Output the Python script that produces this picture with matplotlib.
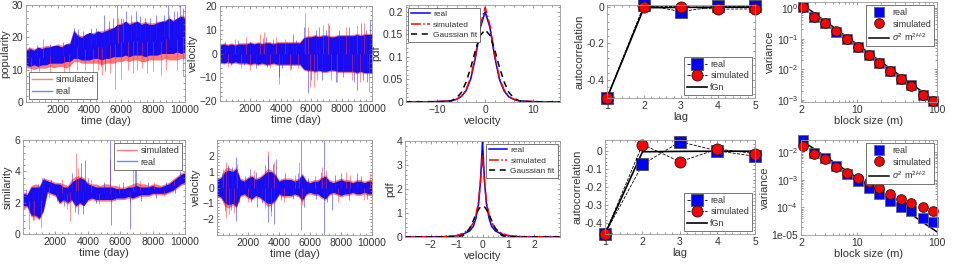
import numpy as np
import matplotlib
matplotlib.use('Agg')
import matplotlib.pyplot as plt
from matplotlib.lines import Line2D
from matplotlib.ticker import AutoMinorLocator

plt.rcParams['font.family'] = ['Liberation Sans', 'DejaVu Sans']
plt.rcParams['mathtext.fontset'] = 'custom'
plt.rcParams['mathtext.rm'] = 'Liberation Sans'
plt.rcParams['mathtext.it'] = 'Liberation Sans:italic'
plt.rcParams['text.color'] = '0.2'
plt.rcParams['axes.labelcolor'] = '0.2'

# ---- time-series envelopes, read every 250 days ----
days = np.arange(0, 10001, 250)

pop_real_hi = [16, 16.5, 16, 17, 16.5, 17, 17, 17.5, 17.5, 17, 18, 18, 22, 20.5, 20, 21, 21.5, 21, 22, 21.5, 22,
               22.5, 23, 24, 24, 25, 24, 24.5, 25, 24, 24.5, 24, 24, 24.5, 25, 25, 26, 25, 26, 26.5, 26]
pop_real_lo = [11.5, 11, 11.5, 11, 11.5, 11.5, 12, 12, 12, 12, 12.5, 12.5, 13.5, 13.5, 13, 13, 13, 13.5, 13.5, 13, 13.5,
               13.5, 14, 14, 14, 14.5, 14, 14.5, 14.5, 14.5, 14, 14.5, 14.5, 14.5, 15, 15, 15, 15, 15.5, 15, 15.5]
pop_sim_hi = [16.5, 17, 16.5, 17, 17, 17.5, 17.5, 17.5, 18, 17.5, 18, 18.5, 22.5, 21, 20.5, 21, 21.5, 21.5, 22, 22,
              22.5, 23, 23, 24, 24.5, 25, 24.5, 25, 25, 24.5, 25, 24.5, 24.5, 25, 25, 25.5, 26, 25.5, 26, 27, 26.5]
pop_sim_lo = [10.5, 10.5, 10, 10.5, 10.5, 10.5, 11, 10.5, 11, 11, 10.5, 11, 12.5, 12.5, 12, 12, 12, 12, 12, 11.5,
              12, 12, 12, 12.5, 12.5, 13, 12.5, 13, 13, 12.5, 12.5, 13, 13, 13, 13, 13.5, 13, 13, 13, 13.5, 13.5]
pop_real_spikes = [(200, 17), (700, 17.5), (1500, 18), (2300, 18.5), (3000, 23), (3300, 22.5), (3600, 22),
                   (4100, 23), (4400, 23), (4700, 11), (4900, 27), (5000, 9.5), (5200, 25), (5500, 26), (5700, 30),
                   (6000, 26), (6300, 28), (6600, 27), (6900, 28), (7200, 26.5), (7500, 26), (7800, 26),
                   (8200, 27), (8700, 27), (8900, 30), (9300, 28), (9500, 28), (9700, 30), (9900, 29)]
pop_sim_spikes = [(300, 8.5), (800, 9), (1100, 19.5), (1500, 9), (2400, 8), (2700, 9), (3200, 10), (3700, 10),
                  (4200, 9), (4500, 10), (4800, 8.5), (5300, 9), (5600, 4), (5800, 26), (6000, 7), (6100, 26),
                  (6400, 10), (6700, 9), (7000, 10), (7300, 10.5), (7600, 9), (8000, 9.5), (8500, 8.5),
                  (8800, 10), (9000, 27), (9500, 10), (9900, 8)]

vel_real_amp = [3.5, 4, 3.5, 4, 3.5, 4, 4, 4, 4.5, 4, 4.5, 4, 4.5, 4.5, 4, 4.5, 4.5, 4.5, 4.5, 4.5, 4.5,
                4.5, 6.5, 7, 7, 7.5, 7, 7.5, 7.5, 7, 7, 7.5, 7.5, 7.5, 7.5, 7.5, 8, 7.5, 8, 8, 8]
vel_sim_amp = [4, 4.5, 4, 4.5, 4, 4.5, 4.5, 4.5, 5, 4.5, 5, 4.5, 5, 5, 4.5, 5, 5, 5, 5, 5, 5,
               5, 7, 7.5, 7.5, 8, 7.5, 8, 8, 7.5, 7.5, 8, 8, 8, 8, 8, 8.5, 8, 8.5, 8.5, 8.5]
vel_real_spikes = [(300, 5), (700, -5), (1200, 5.5), (1600, -5), (2000, 5), (2400, -6), (2800, 6.5), (3000, 7),
                   (3100, -5.5), (3500, 6), (3900, -10), (4100, -6), (4400, 5), (4700, -6.5), (4800, 8),
                   (5000, 5.5), (5500, 11), (5800, -16.5), (6000, -11), (6300, 10), (6500, 11), (6700, -11),
                   (7000, 10), (7200, 12), (7600, -12), (7800, 10), (8100, -10), (8500, 11), (8800, -12),
                   (9000, -15.5), (9300, 13), (9400, -11), (9600, 10), (9700, -12), (9900, 14)]
vel_sim_spikes = [(500, -5.5), (1000, 6), (1400, -6), (1700, 7), (2000, -7), (2600, 8), (2900, 9), (3300, -6),
                  (3700, 7), (3900, -13), (4300, 6), (4600, -7), (5100, -6), (5600, 17), (5800, 11), (5900, -14),
                  (6200, -14), (6400, -11), (6800, 12), (7100, 13), (7300, -11), (7700, -12), (8300, 11),
                  (8700, -11), (9000, 12), (9200, -12), (9500, 13), (9800, -16)]

sim_real_hi = [2.6, 2.5, 3.0, 3.0, 3.0, 3.5, 3.4, 3.3, 3.2, 3.2, 3.0, 3.0, 3.3, 3.5, 3.6, 3.5, 3.2, 3.1, 3.0, 3.0, 3.0,
               3.0, 3.0, 2.9, 2.9, 2.9, 3.0, 3.0, 3.1, 3.0, 3.0, 3.0, 3.1, 3.0, 3.0, 3.1, 3.2, 3.4, 3.6, 3.8, 3.9]
sim_real_lo = [1.8, 1.8, 1.2, 1.2, 1.0, 1.5, 2.7, 2.6, 2.5, 2.0, 2.2, 2.0, 2.2, 1.8, 2.0, 1.8, 2.2, 2.3, 2.2, 2.2, 2.2,
               2.2, 2.2, 2.3, 2.3, 2.3, 2.4, 2.3, 2.4, 2.5, 2.5, 2.5, 2.6, 2.6, 2.6, 2.6, 2.7, 2.8, 3.0, 3.2, 3.3]
sim_sim_hi = [2.7, 2.6, 3.1, 3.2, 3.1, 3.6, 3.5, 3.4, 3.3, 3.3, 3.2, 3.1, 3.5, 3.7, 3.7, 3.6, 3.3, 3.2, 3.2, 3.1, 3.2,
              3.2, 3.1, 3.1, 3.0, 3.0, 3.1, 3.2, 3.3, 3.2, 3.2, 3.1, 3.2, 3.2, 3.1, 3.2, 3.3, 3.5, 3.7, 3.9, 4.0]
sim_sim_lo = [1.6, 1.7, 1.1, 1.1, 0.9, 1.4, 2.6, 2.5, 2.4, 1.9, 2.1, 1.9, 2.1, 1.7, 1.9, 1.8, 2.1, 2.2, 2.1, 2.1, 2.1,
              2.1, 2.1, 2.2, 2.2, 2.2, 2.3, 2.2, 2.3, 2.4, 2.4, 2.4, 2.5, 2.5, 2.5, 2.5, 2.6, 2.7, 2.9, 3.1, 3.2]
sim_real_spikes = [(200, 2.9), (600, 0.9), (900, 3.2), (1200, 3.6), (1300, 3.6), (1700, 3.5), (2100, 2.1),
                   (2500, 1.8), (3000, 3.9), (3200, 1.4), (3400, 1.3), (3600, 4.5), (3700, 1.3), (3800, 4.7),
                   (4000, 3.6), (4500, 2.0), (5000, 3.3), (5400, 6.1), (5450, 0.6), (5700, 2.2), (6200, 3.3),
                   (6600, 0.3), (6900, 4.8), (7000, 4.7), (7300, 2.1), (7700, 3.3), (8200, 2.3), (8800, 3.3),
                   (9400, 2.6), (9700, 4.0), (10000, 4.0)]
sim_sim_spikes = [(400, 0.3), (700, 0.9), (1100, 0.4), (1600, 2.3), (2400, 3.5), (2700, 1.6), (2900, 0.8),
                  (3300, 5.2), (3400, 4.2), (4200, 3.5), (4700, 1.9), (5400, 4.8), (5900, 3.2), (6600, 2.0),
                  (6800, 4.3), (7200, 3.4), (8100, 3.3), (8700, 2.4), (9300, 3.5)]

vel2_real_amp = [0.5, 0.6, 1.0, 1.1, 1.0, 1.2, 0.5, 0.4, 0.6, 0.7, 0.5, 0.6, 0.8, 1.0, 1.0, 0.8, 0.4, 0.5, 0.5, 0.5,
                 0.4, 0.5, 0.8, 0.4, 0.3, 0.4, 0.4, 0.6, 0.7, 0.4, 0.3, 0.4, 0.5, 0.4, 0.4, 0.3, 0.4, 0.4, 0.3, 0.4, 0.4]
vel2_sim_amp = [0.6, 0.7, 1.2, 1.3, 1.1, 1.3, 0.6, 0.5, 0.7, 0.8, 0.6, 0.7, 0.9, 1.2, 1.1, 0.9, 0.5, 0.6, 0.6, 0.6,
                0.5, 0.6, 0.9, 0.5, 0.4, 0.5, 0.5, 0.7, 0.8, 0.5, 0.4, 0.5, 0.6, 0.5, 0.5, 0.4, 0.5, 0.5, 0.4, 0.5, 0.5]
vel2_real_spikes = [(300, 0.9), (500, -1.5), (700, 1.4), (900, -1.4), (1000, 1.3), (1200, -2.1), (1200, 1.9),
                    (1400, -0.9), (1800, 0.7), (2100, 1.2), (2200, -0.9), (2500, 1.0), (2600, -1.2), (2900, -1.0),
                    (3100, 1.4), (3300, -2.2), (3300, 2.0), (3500, -1.5), (3600, 1.5), (3700, -2.3), (3800, 1.8),
                    (4100, -0.8), (4400, 0.9), (4900, -0.7), (5200, 0.9), (5400, 3.0), (5400, -2.7), (5600, -1.2),
                    (5900, 0.6), (6400, -0.7), (6700, 1.0), (6900, 3.0), (6900, -3.0), (7100, -0.9), (7400, -1.4),
                    (7600, 0.8), (8000, 0.9), (8500, -0.8), (9000, 0.9), (9300, 0.7), (9700, -0.7)]
vel2_sim_spikes = [(400, 1.2), (600, -1.9), (600, 1.6), (800, -1.7), (1100, -1.6), (1300, 1.5), (2000, -0.9),
                   (2400, 1.1), (3100, -1.3), (3300, 2.3), (3500, -1.8), (3700, 1.6), (4300, -0.9), (5000, 0.8),
                   (5300, 1.6), (5500, -1.1), (6300, 0.7), (6800, 1.3), (7000, 1.1), (7800, -0.9), (8300, 1.0),
                   (8600, 0.8), (9500, -0.8), (9900, 0.9)]

# ---- pdfs ----
pdf1_x = [-16.6, -12, -10, -8, -7, -6, -5, -4, -3, -2, -1, 0, 1, 2, 3, 4, 5, 6, 7, 8, 10, 12, 15.7]
pdf1_real = [0, 0.0005, 0.001, 0.002, 0.003, 0.006, 0.012, 0.025, 0.052, 0.1, 0.165, 0.2, 0.165, 0.1, 0.05, 0.024,
             0.011, 0.006, 0.003, 0.002, 0.001, 0.0005, 0]
pdf1_sim = [0, 0.0005, 0.001, 0.002, 0.003, 0.006, 0.013, 0.027, 0.055, 0.105, 0.17, 0.21, 0.17, 0.105, 0.053, 0.026,
            0.012, 0.006, 0.003, 0.002, 0.001, 0.0005, 0]
pdf1_gauss = [0, 0, 0, 0.001, 0.003, 0.009, 0.021, 0.044, 0.077, 0.116, 0.148, 0.16, 0.148, 0.116, 0.077, 0.044,
              0.021, 0.009, 0.003, 0.001, 0, 0, 0]

pdf2_x = [-3, -2, -1.5, -1, -0.75, -0.5, -0.35, -0.25, -0.15, -0.08, 0, 0.08, 0.15, 0.25, 0.35, 0.5, 0.75, 1, 1.5,
          2, 3]
pdf2_real = [0, 0.005, 0.01, 0.05, 0.12, 0.25, 0.45, 0.8, 1.4, 2.3, 4.0, 2.3, 1.4, 0.8, 0.45, 0.25, 0.12, 0.05, 0.01,
             0.005, 0]
pdf2_sim = [0, 0.006, 0.015, 0.06, 0.15, 0.35, 0.6, 0.95, 1.5, 2.3, 3.4, 2.3, 1.5, 0.95, 0.6, 0.35, 0.15, 0.06,
            0.015, 0.006, 0]
pdf2_gauss = [0, 0, 0, 0.01, 0.06, 0.35, 0.7, 0.95, 1.15, 1.25, 1.3, 1.25, 1.15, 0.95, 0.7, 0.35, 0.06, 0.01, 0, 0, 0]

# ---- autocorrelation ----
lags = [1, 2, 3, 4, 5]
ac1_real = [-0.5, 0.012, -0.025, 0.004, 0.004]
ac1_sim = [-0.5, 0.002, 0.002, -0.012, -0.01]
ac1_fgn = [-0.5, -0.004, -0.002, -0.001, -0.001]
ac2_real = [-0.46, -0.075, 0.05, 0.0, -0.03]
ac2_sim = [-0.46, 0.035, -0.06, 0.01, -0.015]
ac2_fgn = [-0.46, -0.005, -0.003, -0.002, -0.002]

# ---- aggregated variance ----
block = [2.1, 2.9, 4.0, 5.5, 7.5, 10.2, 14, 19, 26, 35, 48, 66, 89]
var1_real = [1.1, 0.52, 0.32, 0.17, 0.095, 0.055, 0.03, 0.0166, 0.0089, 0.0049, 0.003, 0.0015, 0.00095]
var1_sim = [1.1, 0.52, 0.32, 0.18, 0.095, 0.055, 0.03, 0.0166, 0.0089, 0.0049, 0.0029, 0.0015, 0.00095]
var1_fit_x = [2, 100]
var1_fit_y = [1.4, 0.00083]
var2_real = [0.027, 0.0095, 0.0063, 0.0031, 0.0016, 0.00088, 0.00049, 0.00030, 0.000165, 0.000105, 0.000072,
             0.000042, 0.000029]
var2_sim = [0.017, 0.0085, 0.0055, 0.0030, 0.0018, 0.00118, 0.00082, 0.00050, 0.00031, 0.00021, 0.000144,
            0.0001, 0.000074]
var2_fit_x = [2, 100]
var2_fit_y = [0.028, 0.000013]

W, H = 954, 271
fig = plt.figure(figsize=(W / 100, H / 100), dpi=100)
LBL = 8
TCK = 7.5
FIT_LABEL = r'$\sigma^2$ m$^{2H\text{-}2}$'


def box(x0, y0, x1, y1):
    return fig.add_axes([x0 / W, 1 - y1 / H, (x1 - x0) / W, (y1 - y0) / H])


def style(ax, minor=True):
    for s in ax.spines.values():
        s.set_color('0.6')
        s.set_linewidth(0.6)
    ax.tick_params(which='both', direction='in', top=True, right=True, labelsize=TCK,
                   colors='0.45', labelcolor='0.2', width=0.5, pad=2)
    ax.tick_params(which='major', length=2.5)
    ax.tick_params(which='minor', length=1.2)
    if minor:
        ax.xaxis.set_minor_locator(AutoMinorLocator(5))
        ax.yaxis.set_minor_locator(AutoMinorLocator(5))


def leg(ax, handles, labels, loc, fs=6.5):
    lg = ax.legend(handles, labels, loc=loc, fontsize=fs, fancybox=False, framealpha=1, edgecolor='0.25',
                   borderpad=0.35, labelspacing=0.3, handlelength=2.2, handletextpad=0.4, borderaxespad=0.3)
    lg.get_frame().set_linewidth(0.5)


def band_plot(ax, lo_s, hi_s, lo_r, hi_r, spikes_s, spikes_r):
    ax.fill_between(days, lo_s, hi_s, color='#ff2020', alpha=0.6, lw=0)
    mid_s = (np.array(lo_s) + np.array(hi_s)) / 2
    for d, v in spikes_s:
        ax.vlines(d, np.interp(d, days, mid_s), v, color='#ff3030', lw=0.6, alpha=0.6)
    ax.fill_between(days, lo_r, hi_r, color='#0000ff', alpha=0.9, lw=0)
    mid_r = (np.array(lo_r) + np.array(hi_r)) / 2
    for d, v in spikes_r:
        ax.vlines(d, np.interp(d, days, mid_r), v, color='#2020ff', lw=0.6, alpha=0.6)
    ax.set_xlim(0, 10000)
    ax.set_xticks([2000, 4000, 6000, 8000, 10000])
    ax.set_xlabel('time (day)', fontsize=LBL, labelpad=1)


red_leg = Line2D([], [], color='#ff0000', alpha=0.5, lw=1)
blue_leg = Line2D([], [], color='#0000ff', alpha=0.5, lw=1)

# row 1 ---------------------------------------------------------------
ax = box(26, 5, 185, 102)
band_plot(ax, pop_sim_lo, pop_sim_hi, pop_real_lo, pop_real_hi, pop_sim_spikes, pop_real_spikes)
ax.set_ylim(0, 30)
ax.set_yticks([0, 10, 20, 30])
ax.set_ylabel('popularity', fontsize=LBL, labelpad=1)
style(ax)
leg(ax, [red_leg, blue_leg], ['simulated', 'real'], 'lower left')

ax = box(220, 6, 372, 101)
v_r = np.array(vel_real_amp)
v_s = np.array(vel_sim_amp)
band_plot(ax, -v_s, v_s, -v_r, v_r, vel_sim_spikes, vel_real_spikes)
ax.set_ylim(-20, 20)
ax.set_yticks([-20, -10, 0, 10, 20])
ax.set_ylabel('velocity', fontsize=LBL, labelpad=1)
style(ax)

ax = box(406, 5, 560, 102)
l1, = ax.plot(pdf1_x, pdf1_real, color='#0000ff', lw=1.1)
l2, = ax.plot(pdf1_x, pdf1_sim, color='#ff0000', lw=1.1, ls='-.')
l3, = ax.plot(pdf1_x, pdf1_gauss, color='k', lw=1.1, ls=(0, (4, 3)))
ax.set_xlim(-16.6, 15.7)
ax.set_ylim(0, 0.215)
ax.set_xticks([-10, 0, 10])
ax.set_yticks([0, 0.05, 0.1, 0.15, 0.2])
ax.set_yticklabels(['0', '0.05', '0.1', '0.15', '0.2'])
ax.set_xlabel('velocity', fontsize=LBL, labelpad=1)
ax.set_ylabel('pdf', fontsize=LBL, labelpad=1)
style(ax)
leg(ax, [l1, l2, l3], ['real', 'simulated', 'Gaussian fit'], 'upper left', fs=6)

ax = box(607, 5, 755, 98)
l3, = ax.plot(lags, ac1_fgn, color='k', lw=1.2)
l1, = ax.plot(lags, ac1_real, color='k', lw=0.6, ls='--', marker='s', ms=8, mfc='#0000ff', mec='0.3', mew=0.6)
l2, = ax.plot(lags, ac1_sim, color='k', lw=0.6, ls='--', marker='o', ms=8, mfc='#ff0000', mec='0.1', mew=0.6)
ax.set_xlim(1, 5)
ax.set_ylim(-0.5, 0.011)
ax.set_xticks(lags)
ax.set_yticks([-0.4, -0.2, 0])
ax.set_yticklabels(['-0.4', '-0.2', '0'])
ax.set_xlabel('lag', fontsize=LBL, labelpad=1)
ax.set_ylabel('autocorrelation', fontsize=LBL, labelpad=1)
style(ax)
for ln in (l1, l2):
    ln.set_clip_on(False)
leg(ax, [l1, l2, l3], ['real', 'simulated', 'fGn'], 'lower right', fs=6.5)

ax = box(801, 2, 937, 102)
l3, = ax.loglog(var1_fit_x, var1_fit_y, color='k', lw=1.1)
l1, = ax.loglog(block, var1_real, ls='none', marker='s', ms=7.5, mfc='#0000ff', mec='0.4', mew=0.6, clip_on=False)
l2, = ax.loglog(block, var1_sim, ls='none', marker='o', ms=7, mfc='#ff0000', mec='0.1', mew=0.6, clip_on=False)
ax.set_xlim(2, 100)
ax.set_ylim(8.6e-4, 1.57)
ax.set_xticks([2, 10, 100])
ax.set_xticklabels(['2', '10', '100'])
ax.set_xlabel('block size (m)', fontsize=LBL, labelpad=1)
ax.set_ylabel('variance', fontsize=LBL, labelpad=1)
style(ax, minor=False)
leg(ax, [l1, l2, l3], ['real', 'simulated', FIT_LABEL], 'upper right', fs=6.5)

# row 2 ---------------------------------------------------------------
ax = box(23, 140, 185, 234)
band_plot(ax, sim_sim_lo, sim_sim_hi, sim_real_lo, sim_real_hi, sim_sim_spikes, sim_real_spikes)
ax.set_ylim(0, 6)
ax.set_yticks([0, 2, 4, 6])
ax.set_ylabel('similarity', fontsize=LBL, labelpad=1)
style(ax)
leg(ax, [red_leg, blue_leg], ['simulated', 'real'], 'upper right')

ax = box(217, 140, 372, 235)
v_r = np.array(vel2_real_amp)
v_s = np.array(vel2_sim_amp)
band_plot(ax, -v_s, v_s, -v_r, v_r, vel2_sim_spikes, vel2_real_spikes)
ax.set_ylim(-3, 3)
ax.set_yticks([-2, -1, 0, 1, 2])
ax.set_ylabel('velocity', fontsize=LBL, labelpad=1)
style(ax)

ax = box(405, 141, 560, 237)
l1, = ax.plot(pdf2_x, pdf2_real, color='#0000ff', lw=1.1)
l2, = ax.plot(pdf2_x, pdf2_sim, color='#ff0000', lw=1.1, ls='-.')
l3, = ax.plot(pdf2_x, pdf2_gauss, color='k', lw=1.1, ls=(0, (4, 3)))
ax.set_xlim(-3, 3)
ax.set_ylim(0, 4)
ax.set_xticks([-2, -1, 0, 1, 2])
ax.set_yticks([0, 1, 2, 3, 4])
ax.set_xlabel('velocity', fontsize=LBL, labelpad=1)
ax.set_ylabel('pdf', fontsize=LBL, labelpad=1)
style(ax)
leg(ax, [l1, l2, l3], ['real', 'simulated', 'Gaussian fit'], 'upper right', fs=6)

ax = box(605, 140, 755, 234)
l3, = ax.plot(lags, ac2_fgn, color='k', lw=1.2)
l1, = ax.plot(lags, ac2_real, color='k', lw=0.6, ls='--', marker='s', ms=8, mfc='#0000ff', mec='0.3', mew=0.6)
l2, = ax.plot(lags, ac2_sim, color='k', lw=0.6, ls='--', marker='o', ms=8, mfc='#ff0000', mec='0.1', mew=0.6)
ax.set_xlim(1, 5)
ax.set_ylim(-0.46, 0.06)
ax.set_xticks(lags)
ax.set_yticks([-0.4, -0.3, -0.2, -0.1, 0])
ax.set_yticklabels(['-0.4', '-0.3', '-0.2', '-0.1', '0'])
ax.set_xlabel('lag', fontsize=LBL, labelpad=1)
ax.set_ylabel('autocorrelation', fontsize=LBL, labelpad=1)
style(ax)
for ln in (l1, l2):
    ln.set_clip_on(False)
leg(ax, [l1, l2, l3], ['real', 'simulated', 'fGn'], 'lower right', fs=6.5)

ax = box(801, 140, 937, 235)
l3, = ax.loglog(var2_fit_x, var2_fit_y, color='k', lw=1.1)
l1, = ax.loglog(block, var2_real, ls='none', marker='s', ms=7.5, mfc='#0000ff', mec='0.4', mew=0.6, clip_on=False)
l2, = ax.loglog(block, var2_sim, ls='none', marker='o', ms=7, mfc='#ff0000', mec='0.1', mew=0.6, clip_on=False)
ax.set_xlim(2, 100)
ax.set_ylim(1e-5, 0.028)
ax.set_xticks([2, 10, 100])
ax.set_xticklabels(['2', '10', '100'])
ax.set_yticks([1e-5, 1e-4, 1e-3, 1e-2])
ax.set_yticklabels(['1e-05', r'$10^{-4}$', r'$10^{-3}$', r'$10^{-2}$'])
ax.set_xlabel('block size (m)', fontsize=LBL, labelpad=1)
ax.set_ylabel('variance', fontsize=LBL, labelpad=1)
style(ax, minor=False)
leg(ax, [l1, l2, l3], ['real', 'simulated', FIT_LABEL], 'upper right', fs=6.5)

fig.savefig('out.png', dpi=100)
